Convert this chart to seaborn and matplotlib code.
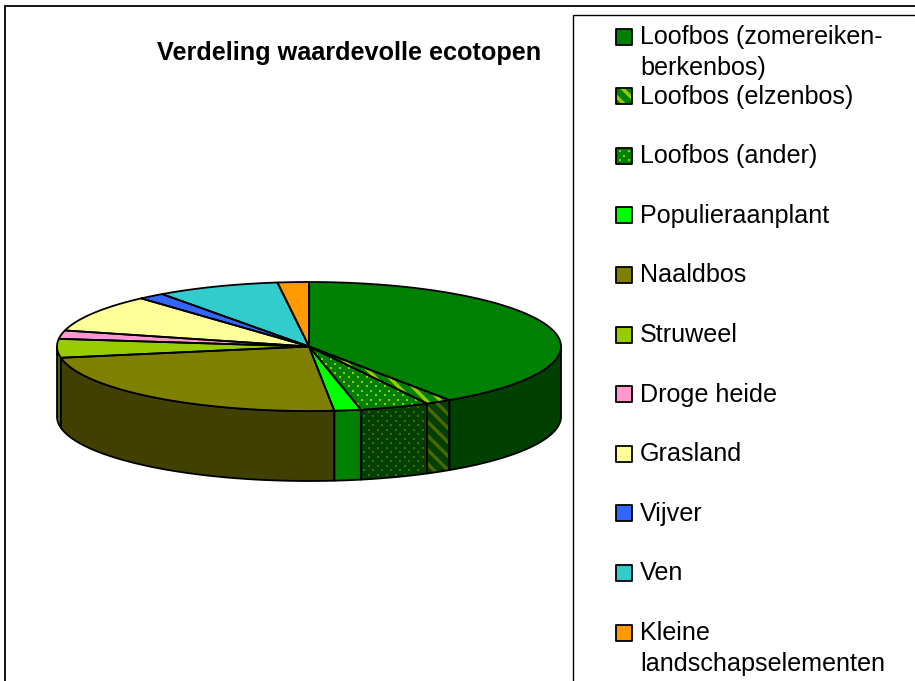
import numpy as np
import matplotlib
matplotlib.use("Agg")
import matplotlib.pyplot as plt
from matplotlib.patches import Polygon
import seaborn as sns

# values (percent of the pie)
labels = ["Loofbos (zomereiken-\nberkenbos)", "Loofbos (elzenbos)", "Loofbos (ander)",
          "Populieraanplant", "Naaldbos", "Struweel", "Droge heide", "Grasland",
          "Vijver", "Ven", "Kleine\nlandschapselementen"]
values = [40.6, 1.65, 4.45, 1.7, 23.8, 4.7, 2.1, 9.4, 1.7, 7.9, 2.0]
colors = ["#008000", "#008000", "#008000", "#00FF00", "#808000", "#99CC00",
          "#FF99CC", "#FFFF99", "#3366FF", "#33CCCC", "#FF9900"]
patterns = [None, "stripes", "dots", None, None, None, None, None, None, None, None]
title = "Verdeling waardevolle ecotopen"

sns.set_theme(style="white")
plt.rcParams["font.family"] = ["Liberation Sans", "DejaVu Sans"]

fig = plt.figure(figsize=(9.15, 6.81), dpi=100)
ax = fig.add_axes([0, 0, 1, 1])
ax.set_xlim(0, 915)
ax.set_ylim(681, 0)
ax.axis("off")

# pie geometry in pixels
cx, cy = 309, 346.5
rx, ry = 252, 64.5
depth = 70

palette = sns.color_palette(colors)
dark = [tuple(c * 0.5 for c in col) for col in palette]
pat_top = sns.color_palette(["#99CC00"])[0]
pat_wall = sns.color_palette(["#4D6600"])[0]

edges = np.concatenate(([0], np.cumsum(values))) / np.sum(values) * 2 * np.pi


def arc(t0, t1, dy=0.0):
    t = np.linspace(t0, t1, 80)
    return cx + rx * np.sin(t), cy - ry * np.cos(t) + dy


def shape(ax, xs, ys, face, pattern, pat_col, z):
    ax.fill(xs, ys, facecolor=face, lw=0, zorder=z)
    clip = Polygon(np.c_[xs, ys], transform=ax.transData)
    if pattern == "dots":
        # staggered little squares, cut off at the outline of the shape
        gx, gy = np.meshgrid(np.arange(xs.min() - 10, xs.max() + 10, 9.0),
                             np.arange(ys.min() - 10, ys.max() + 10, 4.5))
        gx[1::2] += 4.5
        pts = ax.scatter(gx.ravel(), gy.ravel(), marker="s", s=4.5, color=pat_col,
                         linewidths=0, zorder=z + 0.05)
        pts.set_clip_path(clip)
    if pattern == "stripes":
        # diagonal bands, one of them through the middle of the shape
        mx, my = (xs.min() + xs.max()) / 2, (ys.min() + ys.max()) / 2
        span = max(np.ptp(xs), np.ptp(ys)) + 20
        for off in np.arange(-span, span, 14.0):
            ln, = ax.plot([mx + off - span, mx + off + span], [my - span, my + span],
                          color=pat_col, lw=2.4, zorder=z + 0.05)
            ln.set_clip_path(clip)
    ax.fill(xs, ys, facecolor="none", edgecolor="black", lw=1.3, joinstyle="round", zorder=z + 0.1)


# side wall, only the front half shows
for i in range(len(values)):
    t0, t1 = max(edges[i], np.pi / 2), min(edges[i + 1], 3 * np.pi / 2)
    if t1 <= t0:
        continue
    x1, y1 = arc(t0, t1)
    x2, y2 = arc(t1, t0, depth)
    shape(ax, np.r_[x1, x2], np.r_[y1, y2], dark[i], patterns[i], pat_wall, 2)

# top of the pie
for i in range(len(values)):
    x1, y1 = arc(edges[i], edges[i + 1])
    shape(ax, np.r_[cx, x1], np.r_[cy, y1], palette[i], patterns[i], pat_top, 3)

ax.text(349.5, 53, title, fontsize=18.2, fontweight="bold", color="black", ha="center", va="center")

# page frame and legend box
ax.plot([4.5, 4.5, 915], [681, 5.5, 5.5], color="black", lw=1.3, solid_joinstyle="miter", zorder=1)
ax.plot([573, 573, 915], [681, 15, 15], color="black", lw=1.0, solid_joinstyle="miter", zorder=1)

# legend rows
row_y = 36.5
row_step = 59.6
for i, lab in enumerate(labels):
    y = row_y + row_step * i
    s = 16
    xs = np.array([616, 616 + s, 616 + s, 616], dtype=float)
    ys = np.array([y - s / 2, y - s / 2, y + s / 2, y + s / 2])
    shape(ax, xs, ys, palette[i], patterns[i], pat_top, 3)
    for j, line in enumerate(lab.split("\n")):
        ax.text(640, y + 0.5 + j * 30.5, line, fontsize=18.1, color="black", ha="left", va="center")

fig.savefig("out.png", dpi=100, facecolor="white")
